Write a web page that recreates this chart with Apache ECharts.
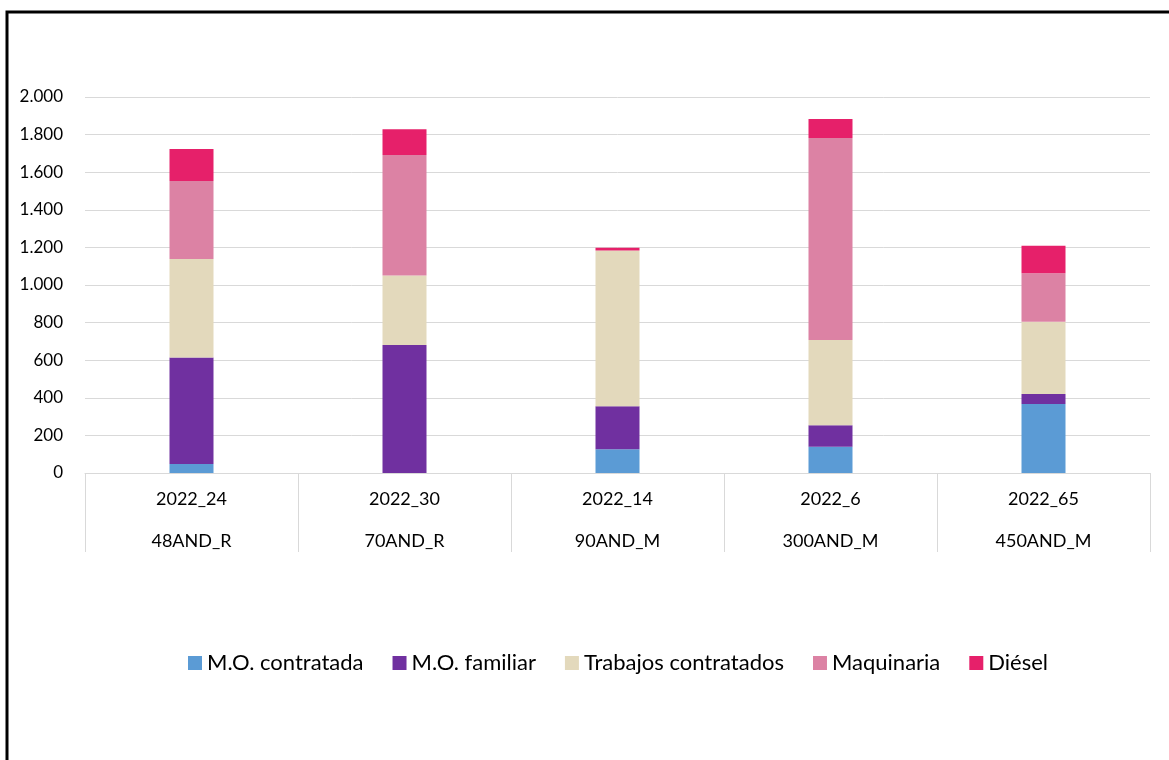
<!DOCTYPE html>
<html>
<head>
<meta charset="utf-8">
<script src="https://cdn.jsdelivr.net/npm/echarts@6/dist/echarts.min.js"></script>
<style>
  html, body { margin: 0; padding: 0; background: #fff; }
  #chart { width: 1169px; height: 760px; }
</style>
</head>
<body>
<div id="chart"></div>
<script>
// categorias (dos niveles)
const codes = ['2022_24', '2022_30', '2022_14', '2022_6', '2022_65']
const farms = ['48AND_R', '70AND_R', '90AND_M', '300AND_M', '450AND_M']

// valores por serie
const moContratada = [48, 0, 126, 140, 367]
const moFamiliar = [567, 681, 229, 114, 53]
const trabajosContratados = [523, 369, 828, 453, 385]
const maquinaria = [415, 641, 0, 1075, 257]
const diesel = [170, 137, 15, 101, 147]

const seriesNames = ['M.O. contratada', 'M.O. familiar', 'Trabajos contratados', 'Maquinaria', 'Diésel']
const seriesColors = ['#5B9BD5', '#7030A0', '#E3D9BC', '#DC82A4', '#E6206A']
const seriesData = [moContratada, moFamiliar, trabajosContratados, maquinaria, diesel]

const font = 'Lato, "Open Sans", sans-serif'

function fmt(v) {
  return String(v).replace(/\B(?=(\d{3})+(?!\d))/g, '.')
}

const chart = echarts.init(document.getElementById('chart'))

chart.setOption({
  animation: false,
  backgroundColor: '#fff',
  textStyle: { fontFamily: font, color: '#000' },
  graphic: [
    {
      type: 'rect',
      shape: { x: 7, y: 12, width: 1300, height: 900 },
      style: { fill: 'none', stroke: '#000', lineWidth: 3 },
      silent: true
    }
  ],
  grid: {
    left: 85,
    right: 19,
    top: 97,
    bottom: 287
  },
  legend: {
    left: 183,
    top: 647,
    itemWidth: 14,
    itemHeight: 14,
    itemGap: 29,
    icon: 'rect',
    textStyle: { fontFamily: font, fontSize: 22, color: '#000' },
    data: seriesNames
  },
  xAxis: {
    type: 'category',
    data: codes.map((c, i) => c + '\n' + farms[i]),
    axisLine: { lineStyle: { color: '#d9d9d9', width: 1 } },
    axisTick: { show: true, length: 79, lineStyle: { color: '#d9d9d9' } },
    axisLabel: {
      fontFamily: font,
      fontSize: 18,
      color: '#000',
      lineHeight: 42,
      margin: 5
    }
  },
  yAxis: {
    type: 'value',
    min: 0,
    max: 2000,
    interval: 200,
    axisLine: { show: false },
    axisTick: { show: false },
    splitLine: { lineStyle: { color: '#d9d9d9', width: 1 } },
    axisLabel: {
      fontFamily: font,
      fontSize: 17,
      color: '#000',
      margin: 22,
      formatter: fmt
    }
  },
  series: seriesNames.map((name, i) => ({
    name: name,
    type: 'bar',
    stack: 'total',
    barWidth: 44,
    itemStyle: { color: seriesColors[i] },
    data: seriesData[i]
  }))
})
</script>
</body>
</html>
